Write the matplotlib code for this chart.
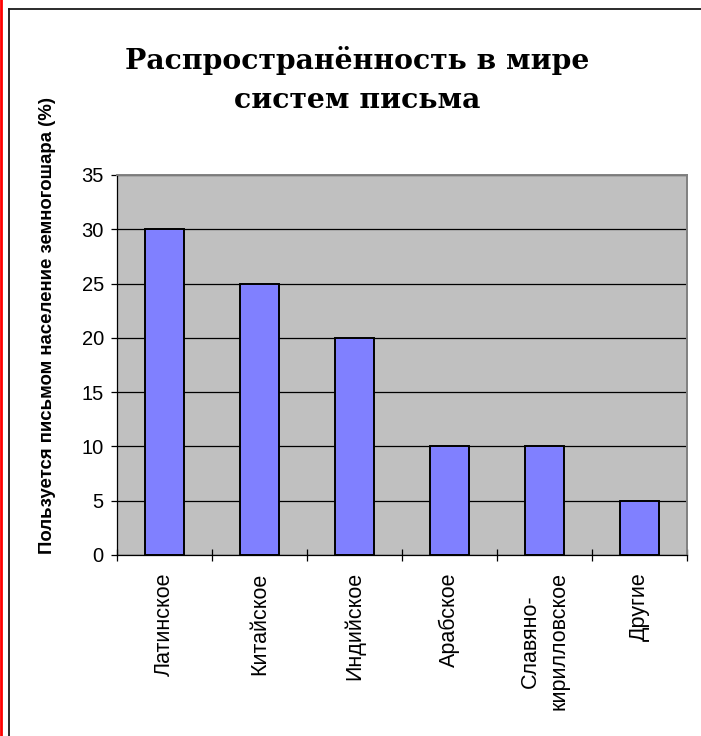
import matplotlib
matplotlib.use("Agg")
import matplotlib.pyplot as plt
from matplotlib.lines import Line2D

categories = ["Латинское", "Китайское", "Индийское", "Арабское",
              "Славяно-\nкирилловское", "Другие"]
shares = [30, 25, 20, 10, 10, 5]
y_ticks = [0, 5, 10, 15, 20, 25, 30, 35]

title = "Распространённость в мире\nсистем письма"
y_label = "Пользуется письмом население земногошара (%)"

W, H = 701, 736
fig = plt.figure(figsize=(W / 100, H / 100), dpi=100)
fig.patch.set_facecolor("white")

ax = fig.add_axes([117 / W, 181 / H, 570 / W, 380 / H])
ax.set_facecolor("#C0C0C0")

x = list(range(len(categories)))
ax.bar(x, shares, width=0.42, color="#8080FF", edgecolor="black",
       linewidth=1.4, zorder=3)

ax.set_xlim(-0.5, len(categories) - 0.5)
ax.set_ylim(0, 35)
ax.set_yticks(y_ticks)
ax.yaxis.grid(True, color="black", linewidth=0.9, zorder=1)
ax.set_axisbelow(True)

ax.set_yticklabels([str(v) for v in y_ticks], fontsize=14.5,
                   family="Liberation Sans")
ax.tick_params(axis="y", direction="out", length=4.5, width=0.9, pad=5)

# ticks sit on category boundaries, labels at the centres
ax.set_xticks([i - 0.5 for i in range(len(categories) + 1)])
ax.set_xticklabels([])
ax.tick_params(axis="x", direction="inout", length=9, width=0.9)
for i, name in enumerate(categories):
    ax.text(i, -1.6, name, rotation=90, ha="center", va="top",
            multialignment="center", fontsize=15.5, family="Liberation Sans",
            linespacing=1.45)

for side in ("left", "bottom"):
    ax.spines[side].set_color("black")
    ax.spines[side].set_linewidth(0.9)
for side in ("top", "right"):
    ax.spines[side].set_color("#808080")
    ax.spines[side].set_linewidth(1.4)

fig.text(48 / W, 1 - 326 / H, y_label, rotation=90, ha="center",
         va="center", fontsize=13.4, fontweight="bold",
         family="Liberation Sans")

fig.text(357 / W, 1 - 80 / H, title, ha="center", va="center",
         fontsize=20.3, fontweight="bold", family="DejaVu Serif",
         linespacing=1.6)

# page frame: red margin line, black top/left border
fig.add_artist(Line2D([1.3 / W, 1.3 / W], [0, 1], color="#FF0000",
                      linewidth=2.0, transform=fig.transFigure))
fig.add_artist(Line2D([9 / W, 9 / W], [0, 1 - 9 / H], color="#1a1a1a",
                      linewidth=1.3, transform=fig.transFigure))
fig.add_artist(Line2D([9 / W, 1], [1 - 9 / H, 1 - 9 / H], color="#1a1a1a",
                      linewidth=1.3, transform=fig.transFigure))

fig.savefig("out.png", dpi=100)
plt.close(fig)
